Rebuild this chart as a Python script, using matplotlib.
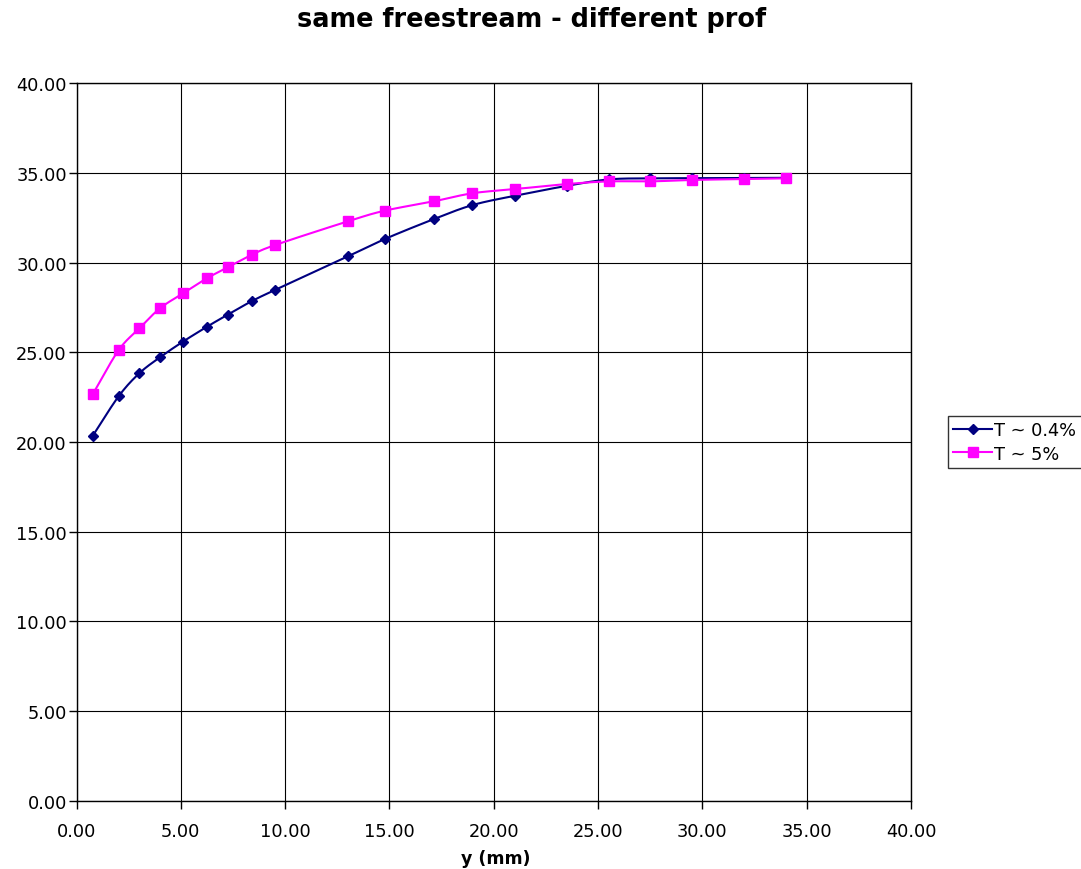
import numpy as np
import matplotlib.pyplot as plt

# perfiles de velocidad, misma corriente libre
y_mm = [0.78, 2.02, 3.01, 4.00, 5.10, 6.25, 7.24, 8.39, 9.51, 13.02,
        14.78, 17.13, 18.98, 21.01, 23.49, 25.51, 27.48, 29.49, 31.98, 33.99]
u_04 = [20.35, 22.55, 23.83, 24.72, 25.59, 26.42, 27.09, 27.84, 28.47, 30.35,
        31.31, 32.42, 33.20, 33.72, 34.27, 34.63, 34.69, 34.70, 34.71, 34.72]
u_5 = [22.67, 25.12, 26.33, 27.45, 28.28, 29.12, 29.73, 30.42, 30.97, 32.30,
       32.89, 33.41, 33.86, 34.09, 34.37, 34.52, 34.52, 34.60, 34.65, 34.69]

xticks = np.arange(0, 41, 5)
yticks = np.arange(0, 41, 5)


def suave(x, y, n=20):
    # curva Catmull-Rom entre los puntos medidos (linea suavizada)
    x = np.asarray(x, float)
    y = np.asarray(y, float)
    P = np.column_stack([x, y])
    P = np.vstack([2*P[0]-P[1], P, 2*P[-1]-P[-2]])
    t = np.linspace(0, 1, n)[:, None]
    seg = []
    for i in range(1, len(P)-2):
        p0, p1, p2, p3 = P[i-1], P[i], P[i+1], P[i+2]
        c = 0.5*((2*p1) + (-p0+p2)*t + (2*p0-5*p1+4*p2-p3)*t**2
                 + (-p0+3*p1-3*p2+p3)*t**3)
        seg.append(c)
    c = np.vstack(seg)
    return c[:, 0], c[:, 1]


fig = plt.figure(figsize=(10.81, 8.70), dpi=100)
ax = fig.add_axes([0.0708, 0.0782, 0.7719, 0.8252])

azul = '#000080'
rosa = '#FF00FF'

xs, ys = suave(y_mm, u_04)
ax.plot(xs, ys, color=azul, lw=1.5, zorder=3)
ax.plot(y_mm, u_04, 'D', color=azul, ms=5.5, zorder=4)
xs, ys = suave(y_mm, u_5)
ax.plot(xs, ys, color=rosa, lw=1.5, zorder=5)
ax.plot(y_mm, u_5, 's', color=rosa, ms=7, zorder=6)

ax.set_xlim(0, 40)
ax.set_ylim(0, 40)
ax.set_xticks(xticks)
ax.set_yticks(yticks)
ax.set_xticklabels(['%.2f' % v for v in xticks])
ax.set_yticklabels(['%.2f' % v for v in yticks])
ax.tick_params(direction='out', length=6, width=1, color='black',
               labelsize=12.8)
ax.tick_params(axis='x', pad=9)
ax.tick_params(axis='y', pad=1)
ax.grid(True, color='black', lw=0.8)
ax.set_axisbelow(True)
for s in ax.spines.values():
    s.set_color('black')
    s.set_linewidth(1)

# titulo y etiqueta del eje x
fig.text(496/1081, 1-859/870, 'y (mm)', ha='center', va='center',
         fontsize=12.5, fontweight='bold')
fig.text(0.492, 0.977, 'same freestream - different prof', ha='center',
         va='center', fontsize=18.4, fontweight='bold')

h1, = ax.plot([], [], '-D', color=azul, ms=5.5, lw=1.5)
h2, = ax.plot([], [], '-s', color=rosa, ms=7, lw=1.5)
leg = fig.legend([h1, h2], ['T ~ 0.4%', 'T ~ 5%'], loc='upper left',
                 bbox_to_anchor=(948/1081, 1-417/870), fontsize=12.8,
                 frameon=True, fancybox=False, edgecolor='black',
                 borderpad=0.3, labelspacing=0.3, handlelength=2.2,
                 handletextpad=0.1, borderaxespad=0)
leg.get_frame().set_linewidth(1)

plt.savefig('out.png', dpi=100)
